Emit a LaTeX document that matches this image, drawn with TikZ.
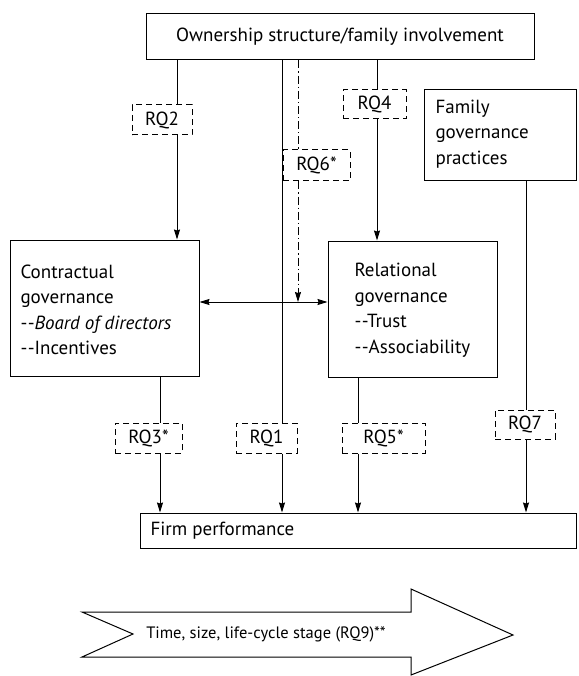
\documentclass[tikz,border=0pt]{standalone}
\usepackage{fontspec}
\setmainfont{PT Sans}
\usetikzlibrary{arrows.meta}
\newcommand{\dd}{-\kern0.5pt-}
\begin{document}
\begin{tikzpicture}[x=1pt,y=-1pt,line width=1pt,
  font=\fontsize{19}{25.5}\selectfont,
  box/.style={draw,rectangle,inner sep=0pt},
  rq/.style={draw,rectangle,inner sep=0pt,dash pattern=on 6pt off 4pt},
  txt/.style={inner sep=0pt,align=left,anchor=west},
  arr/.style={-{Stealth[length=10pt,width=6pt,inset=1pt]}},
  dashdot/.style={dash pattern=on 8pt off 3pt on 1.2pt off 3pt}]
\useasboundingbox (0,0) rectangle (578,676);
% boxes
\node[box,minimum width=388pt,minimum height=46pt] (top) at (340,37) {Ownership structure/family involvement};
\node[rq,minimum width=60pt,minimum height=30pt] (rq2) at (162,120) {RQ2};
\node[rq,minimum width=63pt,minimum height=29pt] (rq4) at (374.5,104.5) {RQ4};
\node[rq,minimum width=67pt,minimum height=31pt] (rq6) at (316.5,165.5) {RQ6*};
\node[box,minimum width=152pt,minimum height=91pt] (fam) at (500,135.5) {};
\node[txt] at (435,134) {Family\\governance\\practices};
\node[box,minimum width=189pt,minimum height=136pt] (con) at (104.5,308) {};
\node[txt] at (20,310) {Contractual\\governance\\\dd\textit{Board of directors}\\\dd Incentives};
\node[box,minimum width=169pt,minimum height=136pt] (rel) at (412.5,309) {};
\node[txt] at (354,310) {Relational\\governance\\\dd Trust\\\dd Associability};
\node[rq,minimum width=67pt,minimum height=30pt] (rq3) at (148.5,438) {RQ3*};
\node[rq,minimum width=61pt,minimum height=30pt] (rq1) at (266.5,438) {RQ1};
\node[rq,minimum width=83pt,minimum height=30pt] (rq5) at (383.5,438) {RQ5*};
\node[rq,minimum width=60pt,minimum height=29pt] (rq7) at (525,424.5) {RQ7};
\node[box,minimum width=436pt,minimum height=35pt] (firm) at (358,530.5) {};
\node[txt] at (150,531) {Firm performance};
% line positions
\coordinate (xa) at (177,0);
\coordinate (xb) at (282,0);
\coordinate (xc) at (298,0);
\coordinate (xd) at (377,0);
\coordinate (xe) at (160,0);
\coordinate (xf) at (358,0);
\coordinate (xg) at (526,0);
\coordinate (hy) at (0,302);
% connectors
\draw (top.south -| xa) -- (rq2.north -| xa);
\draw[arr] (rq2.south -| xa) -- (con.north -| xa);
\draw (top.south -| xb) -- (rq1.north -| xb);
\draw[arr] (rq1.south -| xb) -- (firm.north -| xb);
\draw[dashdot] (top.south -| xc) -- (rq6.north -| xc);
\draw[dashdot,arr] (rq6.south -| xc) -- (xc |- hy);
\draw (top.south -| xd) -- (rq4.north -| xd);
\draw[arr] (rq4.south -| xd) -- (rel.north -| xd);
\draw[{Stealth[length=10pt,width=6pt,inset=1pt]}-{Stealth[length=10pt,width=6pt,inset=1pt]}] (con.east |- hy) -- (rel.west |- hy);
\draw (con.south -| xe) -- (rq3.north -| xe);
\draw[arr] (rq3.south -| xe) -- (firm.north -| xe);
\draw (rel.south -| xf) -- (rq5.north -| xf);
\draw[arr] (rq5.south -| xf) -- (firm.north -| xf);
\draw (fam.south -| xg) -- (rq7.north -| xg);
\draw[arr] (rq7.south -| xg) -- (firm.north -| xg);
% big arrow
\draw (82,612) -- (133,634) -- (82,657) -- (411,657) -- (411,675) -- (513,635) -- (411,589) -- (411,612) -- cycle;
\node[inner sep=0pt,font=\fontsize{16.5}{20}\selectfont] (ta) at (266,634) {Time, size, life-cycle stage (RQ9)**};
\end{tikzpicture}
\end{document}
